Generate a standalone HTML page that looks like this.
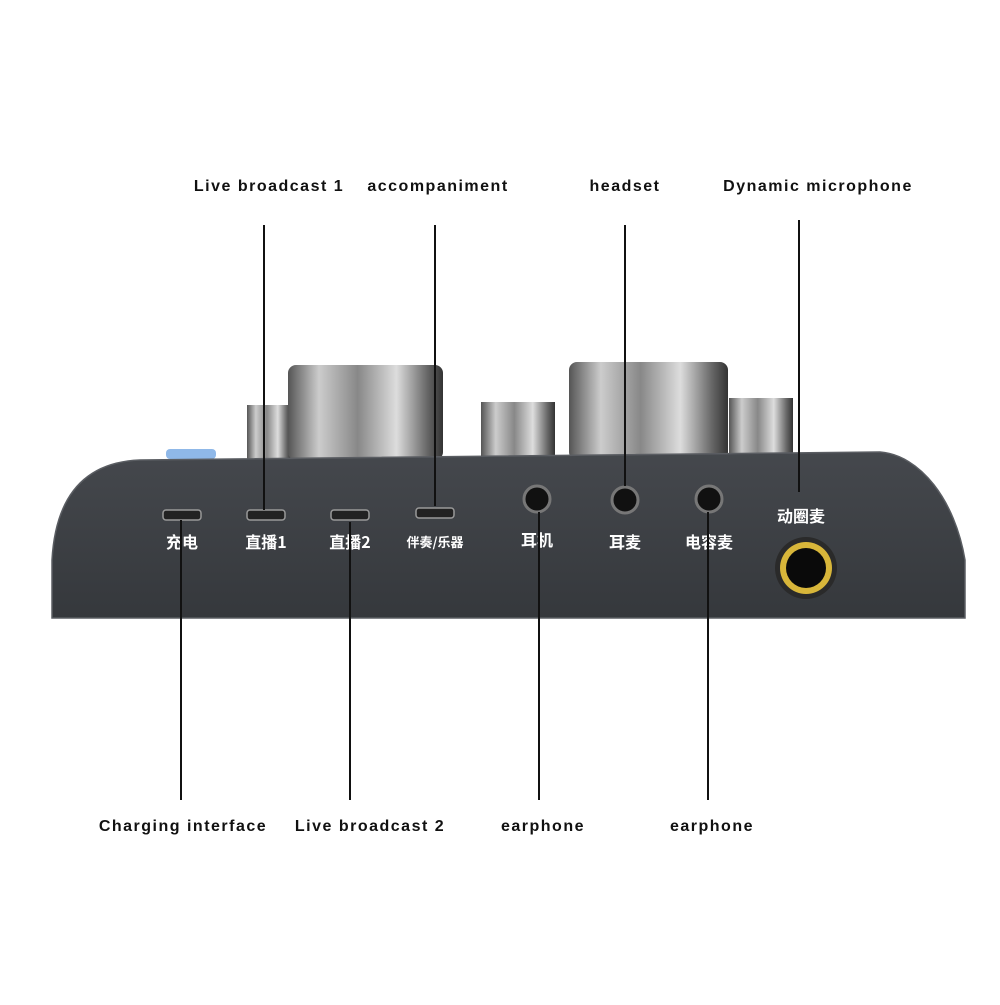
<!DOCTYPE html>
<html><head><meta charset="utf-8"><style>
body{margin:0;background:#fff;width:1000px;height:1000px;overflow:hidden}
svg text{font-family:"Liberation Sans",sans-serif;font-weight:bold;font-size:16px;fill:#111;letter-spacing:1.5px}
</style></head><body>
<svg width="1000" height="1000" viewBox="0 0 1000 1000" xmlns="http://www.w3.org/2000/svg">
<defs>
<linearGradient id="k" x1="0" x2="1" y1="0" y2="0">
<stop offset="0" stop-color="#555"/><stop offset="0.2" stop-color="#ccc"/><stop offset="0.45" stop-color="#888"/><stop offset="0.7" stop-color="#ddd"/><stop offset="0.9" stop-color="#666"/><stop offset="1" stop-color="#333"/>
</linearGradient>
<linearGradient id="b" x1="0" x2="0" y1="0" y2="1">
<stop offset="0" stop-color="#45484d"/><stop offset="1" stop-color="#35383c"/>
</linearGradient>
</defs>
<rect x="247" y="405" width="44" height="55" fill="url(#k)"/>
<rect x="288" y="365" width="155" height="95" rx="8" fill="url(#k)"/>
<rect x="481" y="402" width="74" height="58" fill="url(#k)"/>
<rect x="569" y="362" width="159" height="98" rx="8" fill="url(#k)"/>
<rect x="729" y="398" width="64" height="62" fill="url(#k)"/>
<rect x="166" y="449" width="50" height="10" rx="4" fill="#8fb8e8"/>
<path d="M52,618 L52,560 C56,490 90,462 140,460 L880,452 C920,455 955,500 965,560 L965,618 Z" fill="url(#b)" stroke="#5a5d62" stroke-width="1.5"/>
<g fill="#222" stroke="#999" stroke-width="1.5">
<rect x="163" y="510" width="38" height="10" rx="3"/>
<rect x="247" y="510" width="38" height="10" rx="3"/>
<rect x="331" y="510" width="38" height="10" rx="3"/>
<rect x="416" y="508" width="38" height="10" rx="3"/>
</g>
<g fill="#111" stroke="#777" stroke-width="3">
<circle cx="537" cy="499" r="13"/><circle cx="625" cy="500" r="13"/><circle cx="709" cy="499" r="13"/>
</g>
<circle cx="806" cy="568" r="31" fill="#2a2a2a"/>
<circle cx="806" cy="568" r="26" fill="#d8b63a"/>
<circle cx="806" cy="568" r="20" fill="#0a0a0a"/>
<g>
<text x="182" y="548" text-anchor="middle" style="fill:#fff;letter-spacing:0;font-family:'Noto Sans CJK SC',sans-serif">充电</text>
<text x="266" y="548" text-anchor="middle" style="fill:#fff;letter-spacing:0;font-family:'Noto Sans CJK SC',sans-serif">直播1</text>
<text x="350" y="548" text-anchor="middle" style="fill:#fff;letter-spacing:0;font-family:'Noto Sans CJK SC',sans-serif">直播2</text>
<text x="435" y="547" text-anchor="middle" style="fill:#fff;letter-spacing:0;font-size:13px;font-family:'Noto Sans CJK SC',sans-serif">伴奏/乐器</text>
<text x="537" y="546" text-anchor="middle" style="fill:#fff;letter-spacing:0;font-family:'Noto Sans CJK SC',sans-serif">耳机</text>
<text x="625" y="548" text-anchor="middle" style="fill:#fff;letter-spacing:0;font-family:'Noto Sans CJK SC',sans-serif">耳麦</text>
<text x="709" y="548" text-anchor="middle" style="fill:#fff;letter-spacing:0;font-family:'Noto Sans CJK SC',sans-serif">电容麦</text>
<text x="801" y="522" text-anchor="middle" style="fill:#fff;letter-spacing:0;font-family:'Noto Sans CJK SC',sans-serif">动圈麦</text>
</g>
<g stroke="#111" stroke-width="2">
<line x1="264" y1="225" x2="264" y2="510"/>
<line x1="435" y1="225" x2="435" y2="506"/>
<line x1="625" y1="225" x2="625" y2="486"/>
<line x1="799" y1="220" x2="799" y2="492"/>
<line x1="181" y1="520" x2="181" y2="800"/>
<line x1="350" y1="522" x2="350" y2="800"/>
<line x1="539" y1="512" x2="539" y2="800"/>
<line x1="708" y1="512" x2="708" y2="800"/>
</g>
<text x="269" y="191" text-anchor="middle">Live broadcast 1</text>
<text x="438" y="191" text-anchor="middle">accompaniment</text>
<text x="625" y="191" text-anchor="middle">headset</text>
<text x="818" y="191" text-anchor="middle">Dynamic microphone</text>
<text x="183" y="831" text-anchor="middle">Charging interface</text>
<text x="370" y="831" text-anchor="middle">Live broadcast 2</text>
<text x="543" y="831" text-anchor="middle">earphone</text>
<text x="712" y="831" text-anchor="middle">earphone</text>
</svg>
</body></html>
